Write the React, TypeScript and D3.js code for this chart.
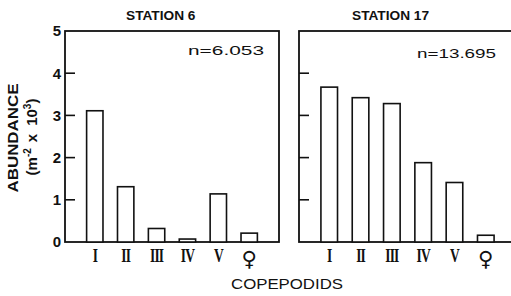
import * as d3 from "d3"

// copepodid stages on the x axis
const stages = ["I", "II", "III", "IV", "V", "♀"]
// abundance (m^-2 x 10^3)
const station6 = [3.11, 1.31, 0.32, 0.07, 1.14, 0.21]
const station17 = [3.67, 3.42, 3.28, 1.88, 1.41, 0.16]
const yTicks = [0, 1, 2, 3, 4, 5]
const titles = ["STATION 6", "STATION 17"]
const totals = ["n=6.053", "n=13.695"]

const W = 511
const H = 296
const top = 31
const bottom = 242
const sans = "'Liberation Sans', Arial, Helvetica, sans-serif"
const serif = "'Liberation Serif', 'Times New Roman', serif"

// panel frames (the right one runs off the page like the scan)
const panelLayout = [
  { x0: 65, x1: 279, titleX: 61, nX: 123, nLen: 76, nY: 55 },
  { x0: 299, x1: 516, titleX: 53, nX: 118, nLen: 79, nY: 58 },
]

export default function App() {
  const y = d3.scaleLinear().domain([0, 5]).range([bottom, top])
  const series = [station6, station17]

  return (
    <svg
      width={W}
      height={H}
      style={{ position: "absolute", left: 0, top: 0, background: "#fff" }}
      fontFamily={sans}
    >
      {panelLayout.map((p, pi) => {
        const x = d3
          .scaleBand<string>()
          .domain(stages)
          .range([p.x0, p.x1])
          .paddingInner(0.47)
          .paddingOuter(0.7)
        const values = series[pi]
        return (
          <g key={pi}>
            {/* frame */}
            <rect
              x={p.x0}
              y={top}
              width={p.x1 - p.x0}
              height={bottom - top}
              fill="none"
              stroke="#111"
              strokeWidth={1.8}
            />
            {/* inward ticks */}
            {yTicks
              .filter((t) => t > 0 && t < 5)
              .map((t) => (
                <line key={t} x1={p.x0} x2={p.x0 + 10} y1={y(t)} y2={y(t)} stroke="#111" strokeWidth={1.6} />
              ))}
            {/* bars */}
            {values.map((v, i) => (
              <rect
                key={i}
                x={x(stages[i])}
                y={y(v)}
                width={x.bandwidth()}
                height={bottom - y(v)}
                fill="#fff"
                stroke="#111"
                strokeWidth={1.6}
              />
            ))}
            {/* stage labels */}
            {stages.map((s, i) => {
              const cx = x(s)! + x.bandwidth() / 2
              return s === "♀" ? (
                <text
                  key={i}
                  x={cx}
                  y={266}
                  textAnchor="middle"
                  fontFamily="'DejaVu Sans', sans-serif"
                  fontWeight="bold"
                  fontSize={21}
                  fill="#111"
                >
                  {s}
                </text>
              ) : (
                <text
                  key={i}
                  transform={`translate(${cx},262) scale(0.75,1)`}
                  textAnchor="middle"
                  fontFamily={serif}
                  fontWeight="bold"
                  fontSize={18}
                  letterSpacing={-1.2}
                  fill="#111"
                >
                  {s}
                </text>
              )
            })}
            <text x={p.x0 + p.titleX} y={19.5} fontWeight="bold" fontSize={13.7} fill="#111">
              {titles[pi]}
            </text>
            <text
              x={p.x0 + p.nX}
              y={p.nY}
              fontSize={13.5}
              textLength={p.nLen}
              lengthAdjust="spacingAndGlyphs"
              fill="#111"
            >
              {totals[pi]}
            </text>
          </g>
        )
      })}

      {/* y tick labels on the left panel */}
      {yTicks.map((t) => (
        <text
          key={t}
          x={61}
          y={y(t)}
          dy="0.36em"
          textAnchor="end"
          fontWeight="bold"
          fontSize={15}
          fill="#111"
        >
          {t}
        </text>
      ))}

      {/* y axis title */}
      <text
        transform={`translate(18,138) rotate(-90)`}
        textAnchor="middle"
        fontWeight="bold"
        fontSize={14}
        textLength={109}
        lengthAdjust="spacingAndGlyphs"
        fill="#111"
      >
        ABUNDANCE
      </text>
      <text
        transform={`translate(37,137) rotate(-90)`}
        textAnchor="middle"
        fontWeight="bold"
        fontSize={15}
        fill="#111"
      >
        (m
        <tspan dy={-6} fontSize={10}>
          -2
        </tspan>
        <tspan dy={6} dx={6}>
          x
        </tspan>
        <tspan dx={8}>10</tspan>
        <tspan dy={-6} fontSize={10}>
          3
        </tspan>
        <tspan dy={6}>)</tspan>
      </text>

      {/* x axis title */}
      <text x={287} y={289} textAnchor="middle" fontSize={15} textLength={112} lengthAdjust="spacingAndGlyphs" fill="#111">
        COPEPODIDS
      </text>
    </svg>
  )
}
